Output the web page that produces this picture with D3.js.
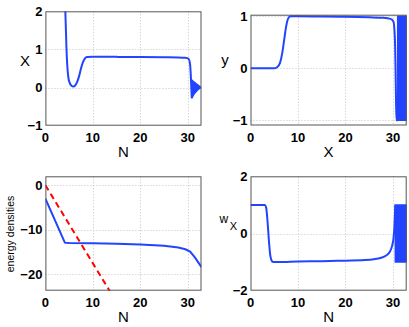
<!DOCTYPE html>
<html><head><meta charset="utf-8">
<script src="https://cdn.jsdelivr.net/npm/d3@7"></script>
<style>body{margin:0;background:#fff}svg{display:block}</style>
</head><body>
<script>
// ---------- data ----------
const nTicks = [0, 10, 20, 30];

// panel 1: X vs N
const xCurveN = [4.15, 4.3, 4.45, 4.6, 4.8, 5.1, 5.5, 5.9, 6.3, 6.7, 7.1, 7.5, 7.9, 8.3, 8.8, 10, 15, 20, 25, 28, 29.5, 30.2, 30.5, 30.65, 30.75, 30.85];
const xCurveV = [2.2, 1.6, 1.0, 0.6, 0.3, 0.13, 0.05, 0.03, 0.06, 0.15, 0.3, 0.5, 0.66, 0.76, 0.8, 0.81, 0.805, 0.8, 0.795, 0.79, 0.78, 0.75, 0.6, 0.3, 0.0, -0.28];
const xBandN = [30.85, 31.2, 31.5, 31.8, 32.1, 32.4, 32.7];
const xBandHi = [0.2, 0.16, 0.13, 0.1, 0.07, 0.04, 0.01];
const xBandLo = [-0.28, -0.2, -0.14, -0.1, -0.06, -0.03, -0.01];
const xTicksY = [-1, 0, 1, 2];

// panel 2: y vs N
const yCurveN = [0, 5, 5.6, 6.2, 6.7, 7.1, 7.5, 7.9, 8.4, 10, 15, 20, 25, 28, 29.5, 30.1, 30.4, 30.55, 30.65, 30.75, 31.0];
const yCurveV = [0, 0, 0.02, 0.1, 0.3, 0.55, 0.8, 0.95, 1.0, 1.0, 0.995, 0.99, 0.98, 0.97, 0.95, 0.9, 0.6, 0.0, -0.6, -1.0, -1.0];
const yBandN = [31.0, 32.9];
const yBandHi = [1.0, 1.0];
const yBandLo = [-1.0, -1.0];
const yTicksY = [-1, 0, 1];

// panel 3: energy densities vs N
const eBlueN = [0, 4.1, 5, 10, 15, 20, 25, 28, 29.5, 30.5, 31.5, 32.9];
const eBlueV = [-3, -12.9, -13.0, -13.05, -13.15, -13.3, -13.6, -14.0, -14.4, -14.9, -16.2, -18.4];
const eRedN = [0, 13.8];
const eRedV = [0, -24.2];
const eTicksY = [-20, -10, 0];

// panel 4: w_X vs N
const wCurveN = [0, 3.0, 3.3, 3.6, 3.9, 4.2, 4.6, 5, 6, 10, 15, 20, 24, 26, 27.5, 28.5, 29.3, 29.8, 30.1, 30.3, 30.45, 30.5];
const wCurveV = [1, 1.0, 0.9, 0.4, -0.3, -0.8, -0.98, -1.0, -1.0, -0.98, -0.97, -0.95, -0.93, -0.9, -0.85, -0.78, -0.65, -0.45, -0.2, 0.2, 0.8, 1.0];
const wBandN = [30.5, 32.9];
const wBandHi = [1.0, 1.0];
const wBandLo = [-1.0, -1.0];
const wTicksY = [-2, 0, 2];

// ---------- drawing ----------
const W = 409, H = 327;
const FONT = "'Liberation Sans', Arial, Helvetica, sans-serif";
const BLUE = "#2244ff", RED = "#ff0000";
const svg = d3.select("body").append("svg").attr("width", W).attr("height", H);

const fmt = v => (v < 0 ? "\u2212" + Math.abs(v) : String(v));

function panel(cfg, idx) {
  const x = d3.scaleLinear().domain([0, 32.9]).range([cfg.l, cfg.r]);
  const y = d3.scaleLinear().domain(cfg.yDom).range([cfg.b, cfg.t]);
  const g = svg.append("g");
  const cid = "clip" + idx;
  g.append("clipPath").attr("id", cid).append("rect")
    .attr("x", cfg.l).attr("y", cfg.t).attr("width", cfg.r - cfg.l).attr("height", cfg.b - cfg.t);

  // grid
  const grid = g.append("g").attr("stroke", "#c4c4c4").attr("stroke-width", 1).attr("stroke-dasharray", "1,2");
  nTicks.filter(v => x(v) > cfg.l + 1 && x(v) < cfg.r - 1).forEach(v => {
    grid.append("line").attr("x1", Math.round(x(v)) + 0.5).attr("x2", Math.round(x(v)) + 0.5)
      .attr("y1", cfg.t).attr("y2", cfg.b);
  });
  cfg.yTicks.filter(v => y(v) > cfg.t + 1 && y(v) < cfg.b - 1).forEach(v => {
    grid.append("line").attr("y1", Math.round(y(v)) + 0.5).attr("y2", Math.round(y(v)) + 0.5)
      .attr("x1", cfg.l).attr("x2", cfg.r);
  });

  const plot = g.append("g").attr("clip-path", `url(#${cid})`);
  (cfg.bands || []).forEach(bd => {
    const area = d3.area().x((d, i) => x(bd.n[i])).y0((d, i) => y(bd.lo[i])).y1((d, i) => y(bd.hi[i]));
    plot.append("path").attr("d", area(bd.n)).attr("fill", BLUE).attr("stroke", BLUE).attr("stroke-width", 1.5);
  });
  cfg.lines.forEach(ln => {
    const line = d3.line().x((d, i) => x(ln.n[i])).y((d, i) => y(ln.v[i])).curve(ln.curve || d3.curveMonotoneX);
    plot.append("path").attr("d", line(ln.n)).attr("fill", "none")
      .attr("stroke", ln.color).attr("stroke-width", 2)
      .attr("stroke-dasharray", ln.dash || null);
  });

  // box
  g.append("rect").attr("x", cfg.l + 0.5).attr("y", cfg.t + 0.5)
    .attr("width", cfg.r - cfg.l - 1).attr("height", cfg.b - cfg.t - 1)
    .attr("fill", "none").attr("stroke", "#555").attr("stroke-width", 1);

  // tick labels
  nTicks.forEach(v => {
    g.append("text").attr("x", x(v)).attr("y", cfg.b + 16.6).attr("text-anchor", "middle")
      .attr("font-family", FONT).attr("font-weight", "bold").attr("font-size", 13).text(fmt(v));
  });
  cfg.yTicks.forEach(v => {
    g.append("text").attr("x", cfg.l - 3).attr("y", y(v)).attr("dy", "0.36em").attr("text-anchor", "end")
      .attr("font-family", FONT).attr("font-weight", "bold").attr("font-size", 13).text(fmt(v));
  });
  // x label
  g.append("text").attr("x", (cfg.l + cfg.r) / 2).attr("y", cfg.b + 31.5).attr("text-anchor", "middle")
    .attr("font-family", FONT).attr("font-size", 15).text(cfg.xLabel);
  cfg.yLabel(g);
}

const panels = [
  { l: 45.4, r: 201.5, t: 11.3, b: 125.7, yDom: [-1, 2], yTicks: xTicksY, xLabel: "N",
    lines: [{ n: xCurveN, v: xCurveV, color: BLUE }],
    bands: [{ n: xBandN, lo: xBandLo, hi: xBandHi }],
    yLabel: g => g.append("text").attr("x", 25).attr("y", 65.7).attr("text-anchor", "middle")
      .attr("font-family", FONT).attr("font-size", 15).text("X") },
  { l: 250.5, r: 406.7, t: 14.7, b: 125.5, yDom: [-1.1, 1.03], yTicks: yTicksY, xLabel: "X",
    lines: [{ n: yCurveN, v: yCurveV, color: BLUE }],
    bands: [{ n: yBandN, lo: yBandLo, hi: yBandHi }],
    yLabel: g => g.append("text").attr("x", 225).attr("y", 65).attr("text-anchor", "middle")
      .attr("font-family", FONT).attr("font-size", 15).text("y") },
  { l: 45.4, r: 201.5, t: 176.3, b: 290.7, yDom: [-23.7, 2], yTicks: eTicksY, xLabel: "N",
    lines: [{ n: eBlueN, v: eBlueV, color: BLUE, curve: d3.curveLinear },
            { n: eRedN, v: eRedV, color: RED, dash: "6,4", curve: d3.curveLinear }],
    yLabel: g => g.append("text").attr("transform", "translate(13.5,234) rotate(-90)").attr("text-anchor", "middle")
      .attr("font-family", FONT).attr("font-size", 10.5).attr("fill", "#000").text("energy densities") },
  { l: 250.5, r: 406.7, t: 176.3, b: 290.7, yDom: [-2, 2], yTicks: wTicksY, xLabel: "N",
    lines: [{ n: wCurveN, v: wCurveV, color: BLUE }],
    bands: [{ n: wBandN, lo: wBandLo, hi: wBandHi }],
    yLabel: g => {
      const t = g.append("text").attr("x", 219.5).attr("y", 223.3).attr("font-family", FONT).attr("font-size", 12);
      t.append("tspan").text("w");
      t.append("tspan").attr("font-size", 11).attr("dx", 1.5).attr("dy", 6.7).text("X");
    } }
];
panels.forEach(panel);
</script>
</body></html>
